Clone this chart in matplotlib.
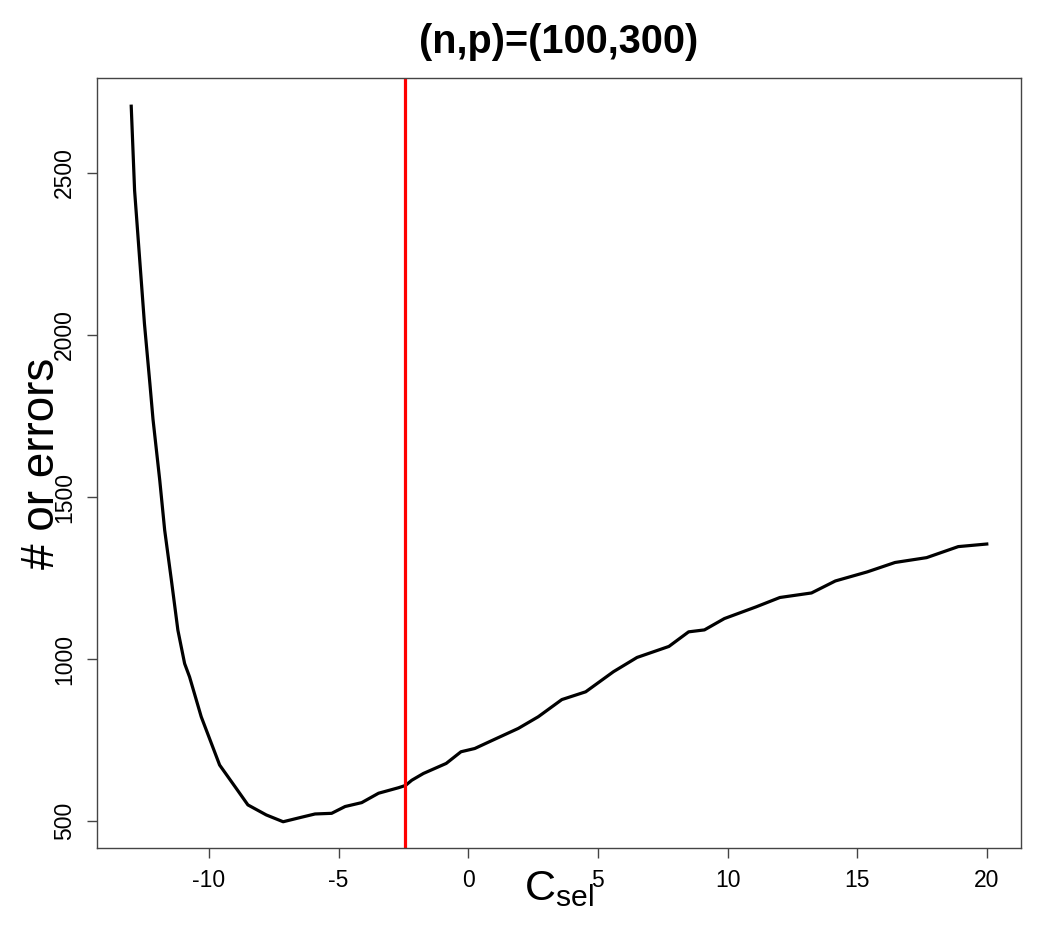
import matplotlib
matplotlib.use("Agg")
import matplotlib.pyplot as plt

# Data
c_sel = [-13.0, -12.87, -12.68, -12.49, -12.28, -12.16, -11.90, -11.71, -11.45,
         -11.20, -10.94, -10.75, -10.30, -9.59, -8.95, -8.50, -7.79, -7.14,
         -6.43, -5.91, -5.27, -4.75, -4.11, -3.46, -2.69, -2.42, -2.18, -1.73,
         -0.85, -0.28, 0.25, 0.87, 1.93, 2.70, 3.61, 4.53, 5.60, 6.51, 7.74,
         8.50, 9.11, 9.88, 11.10, 12.02, 13.24, 14.16, 15.39, 16.46, 17.68,
         18.90, 20.0]
n_errors = [2706, 2446, 2240, 2035, 1850, 1740, 1552, 1398, 1243,
            1089, 986, 945, 822, 673, 601, 550, 519, 498,
            512, 522, 524, 545, 557, 586, 603, 610, 626, 647,
            678, 714, 724, 747, 786, 822, 875, 899, 961, 1005, 1039,
            1084, 1090, 1125, 1161, 1190, 1204, 1241, 1269, 1298, 1313,
            1347, 1355]
vline_x = -2.45
x_ticks = [-10, -5, 0, 5, 10, 15, 20]
y_ticks = [500, 1000, 1500, 2000, 2500]
title = "(n,p)=(100,300)"

plt.rcParams['font.family'] = ['Liberation Sans', 'DejaVu Sans']
plt.rcParams['mathtext.fontset'] = 'custom'
plt.rcParams['mathtext.rm'] = 'Liberation Sans'
plt.rcParams['mathtext.it'] = 'Liberation Sans'

fig = plt.figure(figsize=(10.63, 9.48), dpi=100)
ax = fig.add_axes([97/1063, 1-848/948, (1021-97)/1063, (848-78)/948])

ax.plot(c_sel, n_errors, color='black', lw=2.3, solid_joinstyle='round')
ax.axvline(vline_x, color='#ff0000', lw=2.3)

ax.set_xlim(-14.32, 21.32)
ax.set_ylim(417, 2793)
ax.set_xticks(x_ticks)
ax.set_yticks(y_ticks)
ax.set_xticklabels([str(v) for v in x_ticks], fontsize=16.5)
ax.set_yticklabels([str(v) for v in y_ticks], fontsize=16.5, rotation=90, va='center')
ax.tick_params(axis='both', direction='out', length=7, width=1, color='#444444')
ax.tick_params(axis='x', pad=8)
ax.tick_params(axis='y', pad=8)
for s in ax.spines.values():
    s.set_color('#444444')
    s.set_linewidth(1)

ax.text(0.5, 1 + 36/770, title, transform=ax.transAxes, fontsize=28.5,
        fontweight='bold', ha='center', va='center')
fig.text(559/1063, 1-900/948, r'$\mathregular{C_{sel}}$', fontsize=31,
         ha='center', va='baseline')
fig.text(42/1063, 0.5 + (948/2-463)/948, '# or errors', fontsize=33,
         rotation=90, ha='center', va='center')

fig.savefig('out.png', dpi=100)
